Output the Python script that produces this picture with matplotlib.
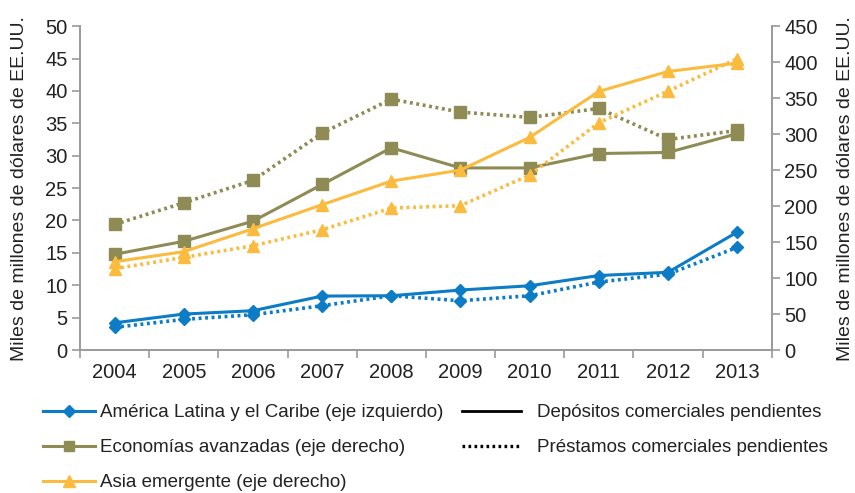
import matplotlib
matplotlib.use("Agg")
import matplotlib.pyplot as plt
from matplotlib.lines import Line2D
from matplotlib import font_manager

years = ["2004", "2005", "2006", "2007", "2008", "2009", "2010", "2011", "2012", "2013"]

# América Latina y el Caribe (left axis)
lac_dep = [4.2, 5.55, 6.07, 8.33, 8.38, 9.26, 9.92, 11.5, 12.0, 18.2]
lac_loan = [3.5, 4.73, 5.45, 6.84, 8.38, 7.61, 8.38, 10.5, 11.7, 15.85]
# Economías avanzadas (right axis)
adv_dep = [133, 151, 179, 230, 281, 253, 253, 273, 274.5, 300.5]
adv_loan = [174.5, 204.6, 235.6, 301.4, 348.6, 330.6, 323.1, 335.6, 292.6, 305]
# Asia emergente (right axis)
asia_dep = [122.7, 136.6, 168.5, 201.9, 234.7, 250, 295.4, 359.3, 387, 398.6]
asia_loan = [113, 128.7, 144.9, 167.1, 197.2, 200.5, 243, 315.7, 359.7, 404.6]

left_ticks = [0, 5, 10, 15, 20, 25, 30, 35, 40, 45, 50]
right_ticks = [0, 50, 100, 150, 200, 250, 300, 350, 400, 450]

names = {f.name for f in font_manager.fontManager.ttflist}
fam = "Liberation Sans Narrow" if "Liberation Sans Narrow" in names else "Liberation Sans"
plt.rcParams['font.family'] = [fam, 'DejaVu Sans']

BLUE = "#0b7cc5"
OLIVE = "#8e8b55"
YELLOW = "#fbbb3e"
GRAY = "#9a9a9a"
TXT = "#222222"

fig = plt.figure(figsize=(8.55, 4.93), dpi=100)
ax = fig.add_axes([0.0936, 0.290, 0.809, 0.657])
ax2 = ax.twinx()

x = list(range(len(years)))
dot = (0, (0.8, 1.0))

ax.plot(x, lac_dep, color=BLUE, lw=2.2, marker="D", ms=6.5, zorder=5)
ax.plot(x, lac_loan, color=BLUE, lw=2.6, ls=dot, marker="D", ms=6.5, zorder=5)
ax2.plot(x, adv_dep, color=OLIVE, lw=2.2, marker="s", ms=9)
ax2.plot(x, adv_loan, color=OLIVE, lw=2.6, ls=dot, marker="s", ms=9)
ax2.plot(x, asia_dep, color=YELLOW, lw=2.2, marker="^", ms=9)
ax2.plot(x, asia_loan, color=YELLOW, lw=2.6, ls=dot, marker="^", ms=9)
ax.set_zorder(ax2.get_zorder() + 1)
ax.patch.set_visible(False)

ax.set_xlim(-0.5, 9.5)
ax.set_ylim(0, 50)
ax2.set_ylim(0, 450)
ax.set_yticks(left_ticks)
ax2.set_yticks(right_ticks)
ax.set_xticks(x)
ax.set_xticklabels(years)
ax.set_xticks([i - 0.5 for i in range(len(years) + 1)], minor=True)
ax.tick_params(axis='x', which='major', length=0, labelsize=14.5, colors=TXT, pad=9)
ax.tick_params(axis='x', which='minor', length=6, width=1.2, color=GRAY)
ax.tick_params(axis='y', length=6, width=1.2, color=GRAY, labelsize=14.5, labelcolor=TXT, pad=3)
ax2.tick_params(axis='y', length=6, width=1.2, color=GRAY, labelsize=14.5, labelcolor=TXT, pad=3)

for a in (ax, ax2):
    a.spines['top'].set_visible(False)
    for s in ('left', 'right', 'bottom'):
        a.spines[s].set_color(GRAY)
        a.spines[s].set_linewidth(1.2)

ax.set_ylabel("Miles de millones de dólares de EE.UU.", fontsize=14, color=TXT, labelpad=12)
ax2.set_ylabel("Miles de millones de dólares de EE.UU.", fontsize=14, color=TXT, labelpad=14)

series_handles = [
    Line2D([], [], color=BLUE, lw=2.2, marker="D", ms=6.5),
    Line2D([], [], color=OLIVE, lw=2.2, marker="s", ms=7),
    Line2D([], [], color=YELLOW, lw=2.2, marker="^", ms=8),
]
series_labels = [
    "América Latina y el Caribe (eje izquierdo)",
    "Economías avanzadas (eje derecho)",
    "Asia emergente (eje derecho)",
]
style_handles = [
    Line2D([], [], color="black", lw=2),
    Line2D([], [], color="black", lw=2.4, ls=dot),
]
style_labels = [
    "Depósitos comerciales pendientes",
    "Préstamos comerciales pendientes",
]
common = dict(loc="upper left", frameon=False, fontsize=13.5, labelspacing=0.95,
              borderaxespad=0, borderpad=0)
leg1 = fig.legend(series_handles, series_labels, bbox_to_anchor=(0.050, 0.180),
                  handlelength=2.8, handletextpad=0.25, **common)
leg2 = fig.legend(style_handles, style_labels, bbox_to_anchor=(0.540, 0.180),
                  handlelength=3.15, handletextpad=0.85, **common)
for leg in (leg1, leg2):
    for t in leg.get_texts():
        t.set_color(TXT)

fig.savefig("out.png", dpi=100)
